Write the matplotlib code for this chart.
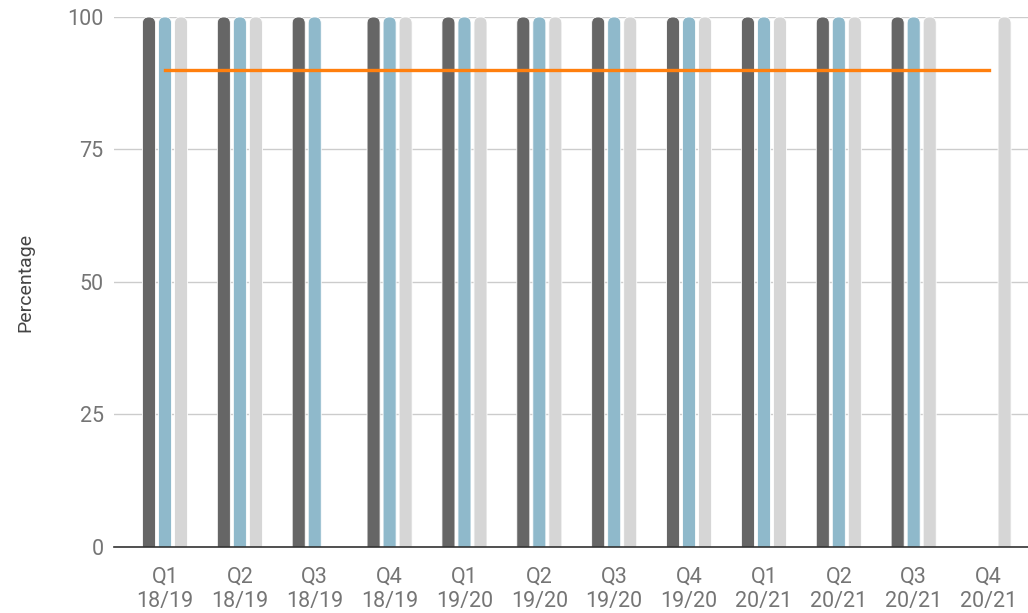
import matplotlib.pyplot as plt
import numpy as np
from matplotlib.patches import FancyBboxPatch

plt.rcParams["font.family"] = ["Roboto", "DejaVu Sans"]

quarters = ["Q1\n18/19", "Q2\n18/19", "Q3\n18/19", "Q4\n18/19",
            "Q1\n19/20", "Q2\n19/20", "Q3\n19/20", "Q4\n19/20",
            "Q1\n20/21", "Q2\n20/21", "Q3\n20/21", "Q4\n20/21"]
series_a = [100, 100, 100, 100, 100, 100, 100, 100, 100, 100, 100, np.nan]
series_b = [100, 100, 100, 100, 100, 100, 100, 100, 100, 100, 100, np.nan]
series_c = [100, 100, np.nan, 100, 100, 100, 100, 100, 100, 100, 100, 100]
target = [90] * len(quarters)

colors = ["#666666", "#8fb9cb", "#d6d6d6"]

fig = plt.figure(figsize=(10.28, 6.13), dpi=100)
ax = fig.add_axes([0.1109, 0.1077, 0.8891, 0.8646])

x = np.arange(len(quarters))
width = 0.174
step = 0.214
ax.set_xlim(-0.681, 11.527)
ax.set_ylim(0, 100)

# pixel sizes to make rounded tops
ax_w = fig.get_figwidth() * fig.dpi * 0.8891
ax_h = fig.get_figheight() * fig.dpi * 0.8646
px_x = (11.527 + 0.681) / ax_w
px_y = 100 / ax_h
radius = width / 2 * 0.95
aspect = px_y / px_x

for i, vals in enumerate([series_a, series_b, series_c]):
    for xi, v in zip(x, vals):
        if np.isnan(v):
            continue
        left = xi + (i - 1) * step - width / 2
        patch = FancyBboxPatch(
            (left, -radius * aspect * 2), width, v + radius * aspect * 2,
            boxstyle=f"round,pad=0,rounding_size={radius}",
            mutation_aspect=aspect,
            facecolor=colors[i], edgecolor="white", linewidth=0.6,
            zorder=2, clip_on=True,
        )
        ax.add_patch(patch)

ax.plot(x, target, color="#ff7f0e", linewidth=2.4, zorder=3)

ax.set_yticks([0, 25, 50, 75, 100])
ax.set_xticks(x)
ax.set_xticklabels(quarters, linespacing=1.25)
ax.grid(axis="y", color="#cccccc", linewidth=1, zorder=0)
ax.set_axisbelow(True)

for s in ["top", "right", "left"]:
    ax.spines[s].set_visible(False)
ax.spines["bottom"].set_color("#333333")
ax.spines["bottom"].set_linewidth(1.2)
ax.spines["bottom"].set_zorder(4)

ax.tick_params(axis="both", length=0, labelsize=15.5, labelcolor="#757575")
ax.tick_params(axis="y", pad=7.5)
ax.tick_params(axis="x", pad=14)
ax.set_ylabel("Percentage", fontsize=14, color="#444444", labelpad=24)

fig.savefig("out.png", dpi=100)
